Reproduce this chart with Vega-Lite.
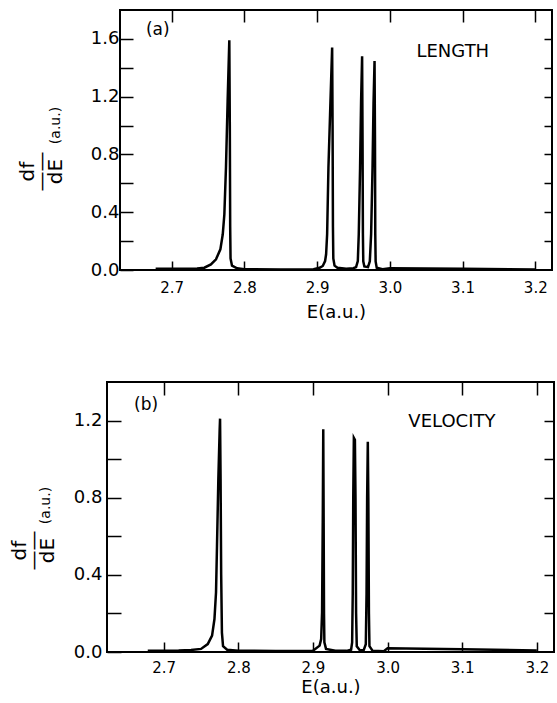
{
  "$schema": "https://vega.github.io/schema/vega-lite/v6.json",
  "padding": {"left": 2, "top": 8, "right": 0, "bottom": 0},
  "background": "white",
  "config": {
    "font": "DejaVu Sans",
    "view": {"stroke": "black", "strokeWidth": 2},
    "axis": {"grid": false, "domain": false, "tickColor": "black", "tickWidth": 1.5, "labelColor": "black", "titleColor": "black", "labelFont": "DejaVu Sans", "titleFont": "DejaVu Sans", "titleFontWeight": "normal", "labelFlush": false, "labelOverlap": false}
  },
  "datasets": {
    "a": [
      {"E": 2.678, "v": 0.008}, {"E": 2.700, "v": 0.008}, {"E": 2.720, "v": 0.009}, {"E": 2.735, "v": 0.011},
      {"E": 2.745, "v": 0.016}, {"E": 2.754, "v": 0.039}, {"E": 2.761, "v": 0.074}, {"E": 2.767, "v": 0.143},
      {"E": 2.7703, "v": 0.247}, {"E": 2.7725, "v": 0.386}, {"E": 2.7747, "v": 0.708}, {"E": 2.777, "v": 1.17},
      {"E": 2.7793, "v": 1.59}, {"E": 2.7800, "v": 1.0}, {"E": 2.7805, "v": 0.3}, {"E": 2.781, "v": 0.08},
      {"E": 2.783, "v": 0.03}, {"E": 2.79, "v": 0.012}, {"E": 2.80, "v": 0.006}, {"E": 2.85, "v": 0.004},
      {"E": 2.895, "v": 0.006}, {"E": 2.9035, "v": 0.015}, {"E": 2.9078, "v": 0.028}, {"E": 2.911, "v": 0.062},
      {"E": 2.9124, "v": 0.109}, {"E": 2.9138, "v": 0.247}, {"E": 2.9156, "v": 0.708}, {"E": 2.9184, "v": 1.17},
      {"E": 2.9207, "v": 1.54}, {"E": 2.9213, "v": 1.0}, {"E": 2.9218, "v": 0.3}, {"E": 2.9223, "v": 0.08},
      {"E": 2.924, "v": 0.03}, {"E": 2.928, "v": 0.015}, {"E": 2.94, "v": 0.008}, {"E": 2.950, "v": 0.012},
      {"E": 2.9536, "v": 0.02}, {"E": 2.956, "v": 0.062}, {"E": 2.9573, "v": 0.247}, {"E": 2.9591, "v": 0.708},
      {"E": 2.9605, "v": 1.17}, {"E": 2.9619, "v": 1.48}, {"E": 2.9625, "v": 0.9}, {"E": 2.963, "v": 0.25},
      {"E": 2.9635, "v": 0.06}, {"E": 2.965, "v": 0.025}, {"E": 2.970, "v": 0.02}, {"E": 2.9725, "v": 0.06},
      {"E": 2.9743, "v": 0.25}, {"E": 2.9762, "v": 0.7}, {"E": 2.9776, "v": 1.15}, {"E": 2.979, "v": 1.447},
      {"E": 2.9796, "v": 0.9}, {"E": 2.980, "v": 0.25}, {"E": 2.9805, "v": 0.06}, {"E": 2.982, "v": 0.015},
      {"E": 2.99, "v": 0.006}, {"E": 3.00, "v": 0.012}, {"E": 3.10, "v": 0.008}, {"E": 3.20, "v": 0.004}
    ],
    "b": [
      {"E": 2.6786, "v": 0.007}, {"E": 2.72, "v": 0.008}, {"E": 2.7366, "v": 0.01}, {"E": 2.75, "v": 0.016},
      {"E": 2.759, "v": 0.041}, {"E": 2.7648, "v": 0.085}, {"E": 2.768, "v": 0.171}, {"E": 2.7701, "v": 0.31},
      {"E": 2.7714, "v": 0.55}, {"E": 2.7732, "v": 0.897}, {"E": 2.775, "v": 1.156}, {"E": 2.7755, "v": 1.21},
      {"E": 2.7762, "v": 0.9}, {"E": 2.777, "v": 0.4}, {"E": 2.778, "v": 0.1}, {"E": 2.7795, "v": 0.03},
      {"E": 2.785, "v": 0.012}, {"E": 2.80, "v": 0.007}, {"E": 2.85, "v": 0.005}, {"E": 2.90, "v": 0.007},
      {"E": 2.9089, "v": 0.033}, {"E": 2.911, "v": 0.067}, {"E": 2.9122, "v": 0.206}, {"E": 2.9132, "v": 0.724},
      {"E": 2.9138, "v": 1.155}, {"E": 2.9143, "v": 0.7}, {"E": 2.9148, "v": 0.2}, {"E": 2.9153, "v": 0.05},
      {"E": 2.9175, "v": 0.016}, {"E": 2.93, "v": 0.006}, {"E": 2.945, "v": 0.006}, {"E": 2.9511, "v": 0.012},
      {"E": 2.9525, "v": 0.05}, {"E": 2.9533, "v": 0.3}, {"E": 2.954, "v": 0.8}, {"E": 2.9548, "v": 1.11},
      {"E": 2.9562, "v": 1.10}, {"E": 2.957, "v": 0.8}, {"E": 2.9578, "v": 0.2}, {"E": 2.9587, "v": 0.03},
      {"E": 2.963, "v": 0.008}, {"E": 2.968, "v": 0.01}, {"E": 2.9708, "v": 0.04}, {"E": 2.9718, "v": 0.3},
      {"E": 2.9726, "v": 0.8}, {"E": 2.9735, "v": 1.09}, {"E": 2.9742, "v": 0.8}, {"E": 2.9750, "v": 0.2},
      {"E": 2.9757, "v": 0.03}, {"E": 2.98, "v": 0.006}, {"E": 2.995, "v": 0.004}, {"E": 3.00, "v": 0.02},
      {"E": 3.10, "v": 0.014}, {"E": 3.20, "v": 0.008}
    ],
    "labA": [
      {"E": 2.6809, "v": 1.662, "label": "(a)"},
      {"E": 3.0866, "v": 1.511, "label": "LENGTH"}
    ],
    "labB": [
      {"E": 2.6763, "v": 1.2815, "label": "(b)"},
      {"E": 3.0862, "v": 1.191, "label": "VELOCITY"}
    ],
    "empty": []
  },
  "spacing": 58,
  "vconcat": [
    {
      "spacing": 0,
      "bounds": "flush",
      "hconcat": [
        {
          "width": 13, "height": 1,
          "view": {"stroke": null},
          "data": {"name": "empty"},
          "mark": {"type": "point", "opacity": 0}
        },
        {
          "width": 432, "height": 260,
          "layer": [
            {
              "data": {"name": "a"},
              "mark": {"type": "line", "color": "black", "strokeWidth": 2.5, "clip": true},
              "encoding": {
                "x": {"field": "E", "type": "quantitative", "scale": {"domain": [2.629, 3.223], "nice": false, "zero": false},
                  "axis": {"orient": "bottom", "values": [2.7, 2.8, 2.9, 3.0, 3.1, 3.2], "format": ".1f", "tickSize": -9, "labelPadding": 19, "labelFontSize": 15, "title": "E(a.u.)", "titleFontSize": 18, "titlePadding": 8}},
                "y": {"field": "v", "type": "quantitative", "scale": {"domain": [0, 1.8], "nice": false, "zero": false},
                  "axis": {"orient": "left", "values": [0, 0.2, 0.4, 0.6, 0.8, 1, 1.2, 1.4, 1.6], "labelExpr": "(round(datum.value*10) % 4 == 0) ? format(datum.value, '.1f') : ''", "tickSize": -13, "labelPadding": 14, "labelFontSize": 18, "title": ["df", "——", "dE"], "titleFontSize": 20, "titleLineHeight": 14, "titleX": -83, "titleY": 161}}
              }
            },
            {
              "data": {"name": "labA"},
              "mark": {"type": "text", "color": "black"},
              "encoding": {
                "x": {"field": "E", "type": "quantitative", "scale": {"domain": [2.629, 3.223], "nice": false, "zero": false},
                  "axis": {"orient": "top", "values": [2.7, 2.8, 2.9, 3.0, 3.1, 3.2], "labels": false, "tickSize": -12, "title": null}},
                "y": {"field": "v", "type": "quantitative", "scale": {"domain": [0, 1.8], "nice": false, "zero": false},
                  "axis": {"orient": "right", "values": [0.2, 0.4, 0.6, 0.8, 1, 1.2, 1.4, 1.6], "labels": false, "tickSize": -8, "title": null}},
                "text": {"field": "label"},
                "size": {"condition": {"test": "datum.label === '(a)'", "value": 17}, "value": 18}
              }
            },
            {
              "data": {"name": "labA"},
              "mark": {"type": "point", "opacity": 0},
              "encoding": {
                "x": {"field": "E", "type": "quantitative", "scale": {"domain": [2.629, 3.223], "nice": false, "zero": false}, "axis": null},
                "y": {"field": "v", "type": "quantitative", "scale": {"domain": [0, 1.8], "nice": false, "zero": false},
                  "axis": {"orient": "left", "labels": false, "ticks": false, "domain": false, "title": "(a.u.)", "titleFontSize": 14, "titleX": -58, "titleY": 115}}
              }
            }
          ],
          "resolve": {"axis": {"x": "independent", "y": "independent"}}
        }
      ]
    },
    {
      "width": 447, "height": 270,
      "layer": [
        {
          "data": {"name": "b"},
          "mark": {"type": "line", "color": "black", "strokeWidth": 2.5, "clip": true},
          "encoding": {
            "x": {"field": "E", "type": "quantitative", "scale": {"domain": [2.624, 3.223], "nice": false, "zero": false},
              "axis": {"orient": "bottom", "values": [2.7, 2.8, 2.9, 3.0, 3.1, 3.2], "format": ".1f", "tickSize": -10, "labelPadding": 18, "labelFontSize": 15, "title": "E(a.u.)", "titleFontSize": 18, "titlePadding": 3}},
            "y": {"field": "v", "type": "quantitative", "scale": {"domain": [0, 1.4], "nice": false, "zero": false},
              "axis": {"orient": "left", "values": [0, 0.2, 0.4, 0.6, 0.8, 1, 1.2], "labelExpr": "(round(datum.value*10) % 4 == 0) ? format(datum.value, '.1f') : ''", "tickSize": -14, "labelPadding": 19, "labelFontSize": 18, "title": ["df", "——", "dE"], "titleFontSize": 20, "titleLineHeight": 14, "titleX": -78, "titleY": 168}}
          }
        },
        {
          "data": {"name": "labB"},
          "mark": {"type": "text", "color": "black"},
          "encoding": {
            "x": {"field": "E", "type": "quantitative", "scale": {"domain": [2.624, 3.223], "nice": false, "zero": false},
              "axis": {"orient": "top", "values": [2.7, 2.8, 2.9, 3.0, 3.1, 3.2], "labels": false, "tickSize": -13, "title": null}},
            "y": {"field": "v", "type": "quantitative", "scale": {"domain": [0, 1.4], "nice": false, "zero": false},
              "axis": {"orient": "right", "values": [0.2, 0.4, 0.6, 0.8, 1, 1.2], "labels": false, "tickSize": -10, "title": null}},
            "text": {"field": "label"},
            "size": {"condition": {"test": "datum.label === '(b)'", "value": 17}, "value": 18}
          }
        },
        {
          "data": {"name": "labB"},
          "mark": {"type": "point", "opacity": 0},
          "encoding": {
            "x": {"field": "E", "type": "quantitative", "scale": {"domain": [2.624, 3.223], "nice": false, "zero": false}, "axis": null},
            "y": {"field": "v", "type": "quantitative", "scale": {"domain": [0, 1.4], "nice": false, "zero": false},
              "axis": {"orient": "left", "labels": false, "ticks": false, "domain": true, "domainOpacity": 0, "offset": 104, "title": "(a.u.)", "titleFontSize": 14, "titleX": 49, "titleY": 123}}
          }
        }
      ],
      "resolve": {"axis": {"x": "independent", "y": "independent"}}
    }
  ]
}
